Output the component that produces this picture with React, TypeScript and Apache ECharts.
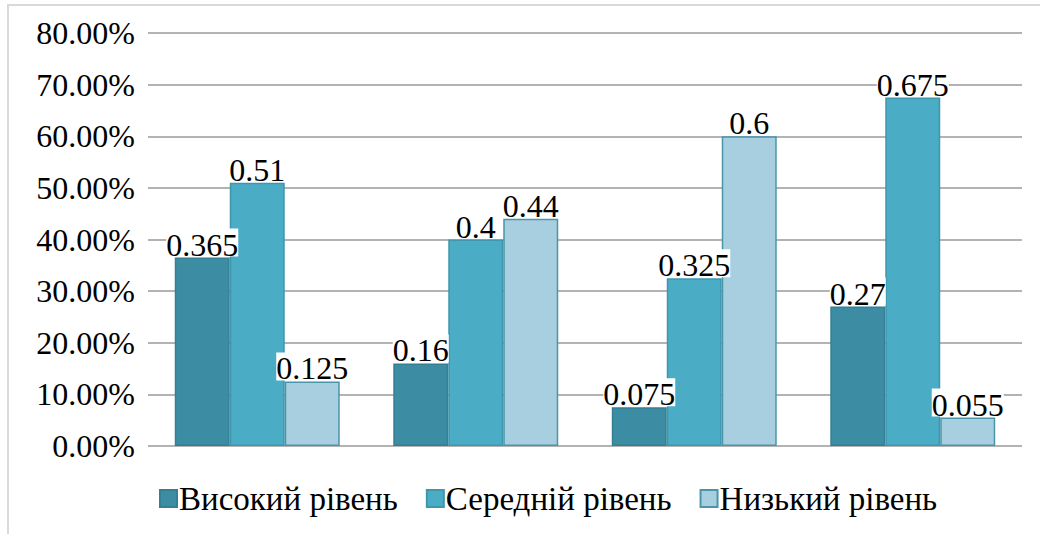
import React, { useEffect, useRef } from "react";
import * as echarts from "echarts";

const categories = ["Група 1", "Група 2", "Група 3", "Група 4"];
const seriesNames = ["Високий рівень", "Середній рівень", "Низький рівень"];
const highLevel = [0.365, 0.16, 0.075, 0.27];
const midLevel = [0.51, 0.4, 0.325, 0.675];
const lowLevel = [0.125, 0.44, 0.6, 0.055];
const colors = ["#3c8da3", "#4bacc6", "#a8cfdf"];
const borders = ["#357f93", "#3f97ae", "#4a95aa"];

const FONT = "Liberation Serif";

export default function App() {
  const ref = useRef<HTMLDivElement>(null);
  useEffect(() => {
    if (!ref.current) return;
    const chart = echarts.init(ref.current, null, { renderer: "svg" });
    const values = [highLevel, midLevel, lowLevel];
    chart.setOption({
      animation: false,
      graphic: [
        {
          type: "polyline",
          shape: { points: [[8, 534], [8, 5], [1040, 5]] },
          style: { stroke: "#d9d9d9", lineWidth: 2, fill: "none" },
          silent: true,
        },
      ],
      grid: { left: 148, right: 18, top: 33, bottom: 88 },
      legend: {
        left: 154,
        top: 477,
        itemWidth: 17,
        itemHeight: 17,
        itemGap: 28,
        icon: "rect",
        textStyle: { fontFamily: FONT, fontSize: 33, color: "#000", padding: [0, 0, 0, -3] },
        data: seriesNames,
      },
      xAxis: {
        type: "category",
        data: categories,
        axisLine: { show: false },
        axisTick: { show: false },
        axisLabel: { show: false },
      },
      yAxis: {
        type: "value",
        min: 0,
        max: 0.8,
        interval: 0.1,
        axisLine: { show: false },
        axisTick: { show: false },
        splitLine: { lineStyle: { color: "#9a9a9a", width: 1.5 } },
        axisLabel: {
          fontFamily: FONT,
          fontSize: 32,
          color: "#000",
          margin: 13,
          formatter: (v: number) => (v * 100).toFixed(2) + "%",
        },
      },
      series: seriesNames.map((name, i) => ({
        name,
        type: "bar",
        data: values[i],
        barGap: "0%",
        barCategoryGap: "24.5%",
        itemStyle: { color: colors[i], borderColor: borders[i], borderWidth: 1.5 },
        label: {
          show: true,
          position: "top",
          distance: 1,
          fontFamily: FONT,
          fontSize: 32,
          color: "#000",
          backgroundColor: "#fff",
          padding: [0, 0, -4, 0],
          formatter: (p: any) => String(p.value),
        },
      })),
    });
    return () => chart.dispose();
  }, []);
  return (
    <div
      ref={ref}
      style={{ position: "absolute", left: 0, top: 0, width: 1040, height: 534 }}
    />
  );
}
